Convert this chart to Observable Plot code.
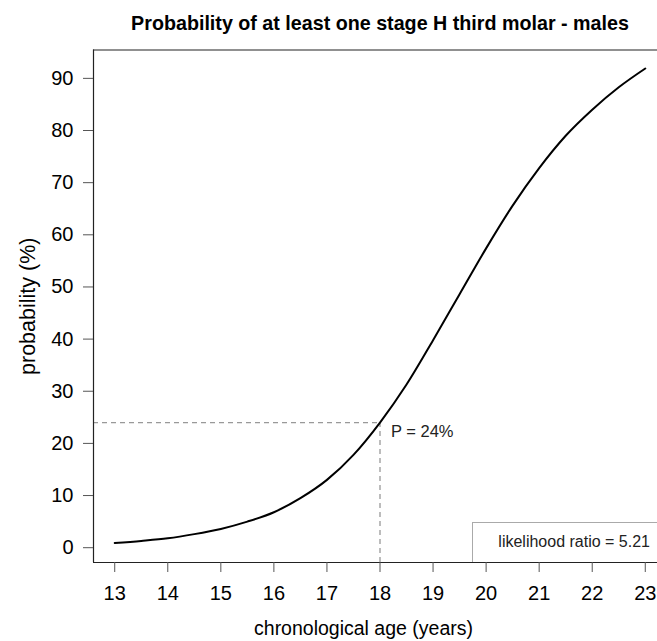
<!DOCTYPE html>
<html><head><meta charset="utf-8">
<script src="https://cdn.jsdelivr.net/npm/d3@7"></script>
<script src="https://cdn.jsdelivr.net/npm/@observablehq/plot@0.6"></script>
<style>
html,body{margin:0;padding:0;background:#fff;overflow:hidden}
#chart{position:relative;width:657px;height:641px;overflow:hidden;font-family:"Liberation Sans",Arial,sans-serif}
#title{position:absolute;left:93px;width:574px;top:12px;text-align:center;font-weight:bold;font-size:19.7px;color:#000;white-space:nowrap}
#legend{position:absolute;left:472px;top:522px;width:190px;height:40px;border:1px solid #aaa;border-bottom:none;background:#fff;box-sizing:border-box}
#legend span{position:absolute;right:11px;top:10px;font-size:16px;color:#222;white-space:nowrap}
</style></head><body><div id="chart"></div>
<script>
// ---- data ----
const ages = [13,13.5,14,14.5,15,15.5,16,16.5,17,17.5,18,18.5,19,19.5,20,20.5,21,21.5,22,22.5,23];
const probability = [0.9,1.3,1.8,2.6,3.6,5.0,6.8,9.5,13.0,17.8,24.0,31.3,39.8,48.6,57.4,65.6,72.8,79.0,84.0,88.3,91.9];
const xTicks = [13,14,15,16,17,18,19,20,21,22,23];
const yTicks = [0,10,20,30,40,50,60,70,80,90];
const refAge = [18];
const refProb = [24];
const refLabels = ["P = 24%"];
const titleText = "Probability of at least one stage H third molar - males";
const xLabel = "chronological age (years)";
const yLabel = "probability (%)";
const legendText = "likelihood ratio = 5.21";

const curve = ages.map((a, i) => ({age: a, p: probability[i]}));
const ref = refAge.map((a, i) => ({age: a, p: refProb[i], label: refLabels[i]}));

// R-style 4% domain extension; the original plot region runs past the right edge of the image
const W = 657, left = 93, fullRight = 666;
const xr = d3.extent(ages), yr = d3.extent(probability);
const xLo = xr[0] - 0.04 * (xr[1] - xr[0]), xHi = xr[1] + 0.04 * (xr[1] - xr[0]);
const xDomain = [xLo, xLo + (xHi - xLo) * (W - left) / (fullRight - left)];
const yDomain = [yr[0] - 0.04 * (yr[1] - yr[0]) - 0.1, yr[1] + 0.04 * (yr[1] - yr[0]) - 0.1];

const chart = Plot.plot({
  width: W,
  height: 641,
  marginLeft: left,
  marginRight: 0,
  marginTop: 49.5,
  marginBottom: 79,
  style: {fontFamily: '"Liberation Sans", Arial, sans-serif', color: "#000", background: "#fff"},
  x: {domain: xDomain},
  y: {domain: yDomain},
  marks: [
    Plot.ruleY(ref, {x1: xDomain[0], x2: "age", y: "p", stroke: "#999", strokeWidth: 1.3, strokeDasharray: "5,4"}),
    Plot.ruleX(ref, {x: "age", y1: yDomain[0], y2: "p", stroke: "#999", strokeWidth: 1.3, strokeDasharray: "5,4"}),
    Plot.line(curve, {x: "age", y: "p", stroke: "#000", strokeWidth: 2, curve: "monotone-x"}),
    Plot.text(ref, {x: "age", y: "p", text: "label", textAnchor: "start", dx: 11, dy: 9, fontSize: 16.5, fill: "#222"}),
    Plot.ruleX([xDomain[0]], {stroke: "#222", strokeWidth: 1.2}),
    Plot.ruleY([yDomain[0], yDomain[1]], {stroke: "#222", strokeWidth: 1.2}),
    Plot.axisX({ticks: xTicks, tickSize: 10, tickPadding: 13, fontSize: 20, label: null, stroke: "#555", tickFormat: d => String(d)}),
    Plot.axisY({ticks: yTicks, tickSize: 10, tickPadding: 10, fontSize: 20, label: null, stroke: "#555", tickFormat: d => String(d)}),
    Plot.text([xLabel], {frameAnchor: "bottom", textAnchor: "middle", dy: 72, dx: -12, fontSize: 19.5, fill: "#000"}),
    Plot.text([yLabel], {frameAnchor: "left", textAnchor: "middle", dx: -65, rotate: -90, fontSize: 21.5, fill: "#000"})
  ]
});

const root = document.getElementById("chart");
root.appendChild(chart);
const t = document.createElement("div");
t.id = "title"; t.textContent = titleText;
root.appendChild(t);
const lg = document.createElement("div");
lg.id = "legend";
const sp = document.createElement("span");
sp.textContent = legendText;
lg.appendChild(sp);
root.appendChild(lg);
</script>
</body></html>
